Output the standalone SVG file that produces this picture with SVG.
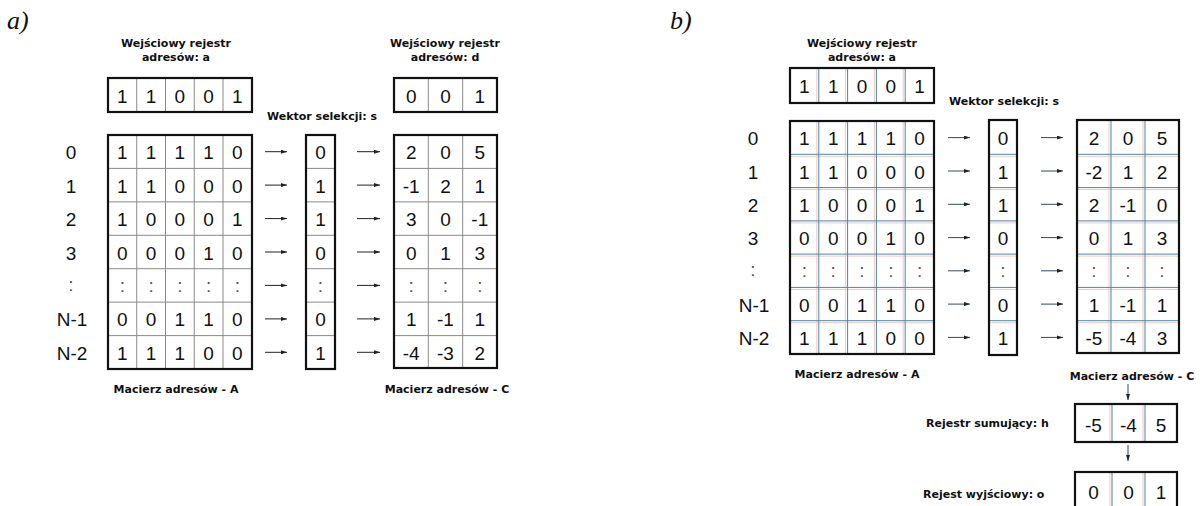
<svg xmlns="http://www.w3.org/2000/svg" width="1201" height="506" viewBox="0 0 1201 506">
<style>
  .tag{font-family:"Liberation Serif","Times New Roman",serif;font-style:italic;font-size:26px;fill:#111}
  .lbl{font-family:"DejaVu Sans",Verdana,sans-serif;font-weight:bold;font-size:11px;fill:#111}
  .num{font-family:"Liberation Sans",Arial,sans-serif;font-size:19px;fill:#111;text-anchor:middle}
  .row{font-family:"Liberation Sans",Arial,sans-serif;font-size:19px;fill:#111;text-anchor:middle}
  .dots{fill:#555}
  .frame{fill:none;stroke:#111;stroke-width:2.2}
  .grid{fill:none;stroke:#8a8a8a;stroke-width:1}
  .gridb{fill:none;stroke:#4f86a6;stroke-width:1}
  .ghost{fill:none;stroke:#f2c9bf;stroke-width:1}
  .arrow{stroke:#222;stroke-width:1;fill:none}
  .arrowb{stroke:#2f4a5a;stroke-width:1;fill:none}
</style>
<defs>
  <marker id="ah" viewBox="0 0 6 4" refX="6" refY="2" markerWidth="6" markerHeight="4" markerUnits="userSpaceOnUse" orient="auto">
    <path d="M0,0 L6,2 L0,4 z" fill="#222"/>
  </marker>
</defs>
<rect width="1201" height="506" fill="#fff"/>

<!-- ===================== panel a ===================== -->
<text class="tag" x="7" y="29">a)</text>

<g id="a-label-a">
  <text class="lbl" x="176" y="47" text-anchor="middle">Wejściowy rejestr</text>
  <text class="lbl" x="176" y="61" text-anchor="middle">adresów: a</text>
</g>
<g id="a-reg-a">
  <path class="grid" d="M136.75,78V112M165.5,78V112M194.25,78V112M223,78V112"/>
  <rect class="frame" x="108" y="78" width="144" height="34"/>
  <g class="num" transform="translate(0,1.5)">
    <text x="122.4" y="101">1</text><text x="151.1" y="101">1</text><text x="179.9" y="101">0</text><text x="208.6" y="101">0</text><text x="237.4" y="101">1</text>
  </g>
</g>

<g id="a-label-d">
  <text class="lbl" x="445" y="47" text-anchor="middle">Wejściowy rejestr</text>
  <text class="lbl" x="445" y="61" text-anchor="middle">adresów: d</text>
</g>
<g id="a-reg-d">
  <path class="grid" d="M428.3,78V112M462.7,78V112"/>
  <rect class="frame" x="394" y="78" width="103" height="34"/>
  <g class="num" transform="translate(0,1.5)">
    <text x="411.2" y="101">0</text><text x="445.5" y="101">0</text><text x="479.8" y="101">1</text>
  </g>
</g>

<g id="a-row-index" class="row" transform="translate(0,1)">
  <text x="71" y="158">0</text>
  <text x="71" y="191.5">1</text>
  <text x="71" y="225">2</text>
  <text x="71" y="258.5">3</text>
  <text x="71" y="290" class="dots">:</text>
  <text x="72" y="325">N-1</text>
  <text x="72" y="358.5">N-2</text>
</g>

<g id="a-matrix-A">
  <path class="grid" d="M136.75,135V369M165.5,135V369M194.25,135V369M223,135V369
    M108,168.4H252M108,201.9H252M108,235.3H252M108,268.7H252M108,302.1H252M108,335.6H252"/>
  <rect class="frame" x="108" y="135" width="144" height="234"/>
  <g class="num" transform="translate(0,1.5)">
    <text x="122.4" y="157.7">1</text><text x="151.1" y="157.7">1</text><text x="179.9" y="157.7">1</text><text x="208.6" y="157.7">1</text><text x="237.4" y="157.7">0</text>
    <text x="122.4" y="191.1">1</text><text x="151.1" y="191.1">1</text><text x="179.9" y="191.1">0</text><text x="208.6" y="191.1">0</text><text x="237.4" y="191.1">0</text>
    <text x="122.4" y="224.6">1</text><text x="151.1" y="224.6">0</text><text x="179.9" y="224.6">0</text><text x="208.6" y="224.6">0</text><text x="237.4" y="224.6">1</text>
    <text x="122.4" y="258">0</text><text x="151.1" y="258">0</text><text x="179.9" y="258">0</text><text x="208.6" y="258">1</text><text x="237.4" y="258">0</text>
    <g class="dots"><text x="122.4" y="290">:</text><text x="151.1" y="290">:</text><text x="179.9" y="290">:</text><text x="208.6" y="290">:</text><text x="237.4" y="290">:</text></g>
    <text x="122.4" y="324.9">0</text><text x="151.1" y="324.9">0</text><text x="179.9" y="324.9">1</text><text x="208.6" y="324.9">1</text><text x="237.4" y="324.9">0</text>
    <text x="122.4" y="358.3">1</text><text x="151.1" y="358.3">1</text><text x="179.9" y="358.3">1</text><text x="208.6" y="358.3">0</text><text x="237.4" y="358.3">0</text>
  </g>
  <text class="lbl" x="176" y="393" text-anchor="middle">Macierz adresów - A</text>
</g>

<g id="a-vector-s">
  <text class="lbl" x="267" y="120">Wektor selekcji: s</text>
  <path class="grid" d="M306,168.4H335M306,201.9H335M306,235.3H335M306,268.7H335M306,302.1H335M306,335.6H335"/>
  <rect class="frame" x="306" y="135" width="29" height="234"/>
  <g class="num" transform="translate(0,1.5)">
    <text x="320.5" y="157.7">0</text><text x="320.5" y="191.1">1</text><text x="320.5" y="224.6">1</text><text x="320.5" y="258">0</text>
    <text x="320.5" y="290" class="dots">:</text>
    <text x="320.5" y="324.9">0</text><text x="320.5" y="358.3">1</text>
  </g>
</g>

<g id="a-matrix-C">
  <path class="grid" d="M428.3,135V368M462.7,135V368
    M394,168.4H497M394,201.9H497M394,235.3H497M394,268.7H497M394,302.1H497M394,335.6H497"/>
  <rect class="frame" x="394" y="135" width="103" height="233"/>
  <g class="num" transform="translate(0,1.5)">
    <text x="411.2" y="157.7">2</text><text x="445.5" y="157.7">0</text><text x="479.8" y="157.7">5</text>
    <text x="411.2" y="191.1">-1</text><text x="445.5" y="191.1">2</text><text x="479.8" y="191.1">1</text>
    <text x="411.2" y="224.6">3</text><text x="445.5" y="224.6">0</text><text x="479.8" y="224.6">-1</text>
    <text x="411.2" y="258">0</text><text x="445.5" y="258">1</text><text x="479.8" y="258">3</text>
    <g class="dots"><text x="411.2" y="290">:</text><text x="445.5" y="290">:</text><text x="479.8" y="290">:</text></g>
    <text x="411.2" y="324.9">1</text><text x="445.5" y="324.9">-1</text><text x="479.8" y="324.9">1</text>
    <text x="411.2" y="358.3">-4</text><text x="445.5" y="358.3">-3</text><text x="479.8" y="358.3">2</text>
  </g>
  <text class="lbl" x="447" y="393" text-anchor="middle">Macierz adresów - C</text>
</g>

<g id="a-connectors" class="arrow" marker-end="url(#ah)">
  <path d="M265,151.7H287"/><path d="M265,185.1H287"/><path d="M265,218.6H287"/><path d="M265,252H287"/><path d="M265,285.4H287"/><path d="M265,318.9H287"/><path d="M265,352.3H287"/>
  <path d="M357,151.7H380"/><path d="M357,185.1H380"/><path d="M357,218.6H380"/><path d="M357,252H380"/><path d="M357,285.4H380"/><path d="M357,318.9H380"/><path d="M357,352.3H380"/>
</g>

<!-- ===================== panel b ===================== -->
<text class="tag" x="670" y="29">b)</text>

<g id="b-label-a">
  <text class="lbl" x="862" y="47" text-anchor="middle">Wejściowy rejestr</text>
  <text class="lbl" x="862" y="61" text-anchor="middle">adresów: a</text>
</g>
<g id="b-reg-a">
  <path class="ghost" d="M816.8,68V103M845.6,68V103M874.4,68V103M903.2,68V103"/>
  <path class="gridb" d="M818.8,68V103M847.6,68V103M876.4,68V103M905.2,68V103"/>
  <rect class="frame" x="790" y="68" width="144" height="35"/>
  <g class="num" transform="translate(0,1.5)">
    <text x="804.4" y="91.5">1</text><text x="833.2" y="91.5">1</text><text x="862" y="91.5">0</text><text x="890.8" y="91.5">0</text><text x="919.6" y="91.5">1</text>
  </g>
</g>

<g id="b-row-index" class="row" transform="translate(0,1)">
  <text x="753" y="144">0</text>
  <text x="753" y="177.5">1</text>
  <text x="753" y="210.5">2</text>
  <text x="753" y="244">3</text>
  <text x="753" y="275" class="dots">:</text>
  <text x="754" y="310.5">N-1</text>
  <text x="754" y="344">N-2</text>
</g>

<g id="b-matrix-A">
  <path class="ghost" d="M816.8,121V354M845.6,121V354M874.4,121V354M903.2,121V354
    M790,156.3H934M790,189.6H934M790,222.9H934M790,256.1H934M790,289.4H934M790,322.7H934"/>
  <path class="gridb" d="M818.8,121V354M847.6,121V354M876.4,121V354M905.2,121V354
    M790,154.3H934M790,187.6H934M790,220.9H934M790,254.1H934M790,287.4H934M790,320.7H934"/>
  <rect class="frame" x="790" y="121" width="144" height="233"/>
  <g class="num" transform="translate(0,1.5)">
    <text x="804.4" y="143.6">1</text><text x="833.2" y="143.6">1</text><text x="862" y="143.6">1</text><text x="890.8" y="143.6">1</text><text x="919.6" y="143.6">0</text>
    <text x="804.4" y="177">1</text><text x="833.2" y="177">1</text><text x="862" y="177">0</text><text x="890.8" y="177">0</text><text x="919.6" y="177">0</text>
    <text x="804.4" y="210.3">1</text><text x="833.2" y="210.3">0</text><text x="862" y="210.3">0</text><text x="890.8" y="210.3">0</text><text x="919.6" y="210.3">1</text>
    <text x="804.4" y="243.6">0</text><text x="833.2" y="243.6">0</text><text x="862" y="243.6">0</text><text x="890.8" y="243.6">1</text><text x="919.6" y="243.6">0</text>
    <g class="dots"><text x="804.4" y="275">:</text><text x="833.2" y="275">:</text><text x="862" y="275">:</text><text x="890.8" y="275">:</text><text x="919.6" y="275">:</text></g>
    <text x="804.4" y="310.1">0</text><text x="833.2" y="310.1">0</text><text x="862" y="310.1">1</text><text x="890.8" y="310.1">1</text><text x="919.6" y="310.1">0</text>
    <text x="804.4" y="343.4">1</text><text x="833.2" y="343.4">1</text><text x="862" y="343.4">1</text><text x="890.8" y="343.4">0</text><text x="919.6" y="343.4">0</text>
  </g>
  <text class="lbl" x="857" y="378" text-anchor="middle">Macierz adresów - A</text>
</g>

<g id="b-vector-s">
  <text class="lbl" x="949" y="105">Wektor selekcji: s</text>
  <path class="ghost" d="M989,156.3H1017M989,189.6H1017M989,222.9H1017M989,256.1H1017M989,289.4H1017M989,322.7H1017"/>
  <path class="gridb" d="M989,154.3H1017M989,187.6H1017M989,220.9H1017M989,254.1H1017M989,287.4H1017M989,320.7H1017"/>
  <rect class="frame" x="989" y="120" width="28" height="235"/>
  <g class="num" transform="translate(0,1.5)">
    <text x="1003" y="143.6">0</text><text x="1003" y="177">1</text><text x="1003" y="210.3">1</text><text x="1003" y="243.6">0</text>
    <text x="1003" y="275" class="dots">:</text>
    <text x="1003" y="310.1">0</text><text x="1003" y="343.4">1</text>
  </g>
</g>

<g id="b-matrix-C">
  <path class="ghost" d="M1109,120V353M1143,120V353
    M1077,156.3H1179M1077,189.6H1179M1077,222.9H1179M1077,256.1H1179M1077,289.4H1179M1077,322.7H1179"/>
  <path class="gridb" d="M1111,120V353M1145,120V353
    M1077,154.3H1179M1077,187.6H1179M1077,220.9H1179M1077,254.1H1179M1077,287.4H1179M1077,320.7H1179"/>
  <rect class="frame" x="1077" y="120" width="102" height="233"/>
  <g class="num" transform="translate(0,1.5)">
    <text x="1094" y="143.6">2</text><text x="1128" y="143.6">0</text><text x="1162" y="143.6">5</text>
    <text x="1094" y="177">-2</text><text x="1128" y="177">1</text><text x="1162" y="177">2</text>
    <text x="1094" y="210.3">2</text><text x="1128" y="210.3">-1</text><text x="1162" y="210.3">0</text>
    <text x="1094" y="243.6">0</text><text x="1128" y="243.6">1</text><text x="1162" y="243.6">3</text>
    <g class="dots"><text x="1094" y="275">:</text><text x="1128" y="275">:</text><text x="1162" y="275">:</text></g>
    <text x="1094" y="310.1">1</text><text x="1128" y="310.1">-1</text><text x="1162" y="310.1">1</text>
    <text x="1094" y="343.4">-5</text><text x="1128" y="343.4">-4</text><text x="1162" y="343.4">3</text>
  </g>
  <text class="lbl" x="1132" y="380" text-anchor="middle">Macierz adresów - C</text>
</g>

<g id="b-reg-h">
  <text class="lbl" x="926" y="427">Rejestr sumujący: h</text>
  <path class="ghost" d="M1110,404V442M1143,404V442"/>
  <path class="gridb" d="M1112,404V442M1145,404V442"/>
  <rect class="frame" x="1075" y="404" width="102" height="38"/>
  <g class="num" transform="translate(0,1.5)">
    <text x="1093.5" y="430">-5</text><text x="1128.5" y="430">-4</text><text x="1161" y="430">5</text>
  </g>
</g>

<g id="b-reg-o">
  <text class="lbl" x="923" y="498">Rejest wyjściowy: o</text>
  <path class="ghost" d="M1110,472V512M1143,472V512"/>
  <path class="gridb" d="M1112,472V512M1145,472V512"/>
  <rect class="frame" x="1075" y="472" width="102" height="40"/>
  <g class="num" transform="translate(0,1.5)">
    <text x="1093.5" y="497">0</text><text x="1128.5" y="497">0</text><text x="1161" y="497">1</text>
  </g>
</g>

<g id="b-connectors" class="arrowb" marker-end="url(#ah)">
  <path d="M948,137.6H970"/><path d="M948,171H970"/><path d="M948,204.3H970"/><path d="M948,237.6H970"/><path d="M948,270.8H970"/><path d="M948,304.1H970"/><path d="M948,337.4H970"/>
  <path d="M1041,137.6H1063"/><path d="M1041,171H1063"/><path d="M1041,204.3H1063"/><path d="M1041,237.6H1063"/><path d="M1041,270.8H1063"/><path d="M1041,304.1H1063"/><path d="M1041,337.4H1063"/>
  <path d="M1128,384V400"/>
  <path d="M1128,445V461"/>
</g>
</svg>
